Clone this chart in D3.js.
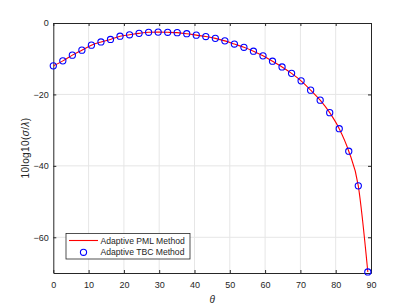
<!DOCTYPE html>
<html>
<head>
<meta charset="utf-8">
<script src="https://cdn.jsdelivr.net/npm/d3@7"></script>
<style>
  body { margin: 0; background: #fff; }
  text { font-family: "Liberation Sans", Arial, sans-serif; fill: #262626; }
</style>
</head>
<body>
<script>
// theta (deg) and RCS values
var theta = [0, 2.7, 5.4, 8.1, 10.8, 13.5, 16.2, 18.9, 21.6, 24.3, 27, 29.7, 32.4, 35.1, 37.8,
    40.5, 43.2, 45.9, 48.6, 51.3, 54, 56.7, 59.4, 62.1, 64.8, 67.5, 70.2, 72.9, 75.6, 78.3,
    81, 83.7, 86.4, 89.1];
var pml = [-12.0, -10.6, -9.0, -7.6, -6.2, -5.3, -4.6, -3.7, -3.3, -2.9, -2.6, -2.55, -2.6, -2.7, -3.0,
    -3.4, -3.8, -4.3, -5.0, -5.9, -6.8, -7.9, -9.2, -10.7, -12.3, -14.1, -16.2, -18.8, -21.6, -25.1,
    -29.6, -35.9, -45.6, -69.7];
var tbc = [-12.0, -10.6, -9.0, -7.6, -6.2, -5.3, -4.6, -3.7, -3.3, -2.9, -2.6, -2.55, -2.6, -2.7, -3.0,
    -3.4, -3.8, -4.3, -5.0, -5.9, -6.8, -7.9, -9.2, -10.7, -12.3, -14.1, -16.2, -18.8, -21.6, -25.1,
    -29.6, -35.9, -45.6, -69.7];
var xTicks = [0, 10, 20, 30, 40, 50, 60, 70, 80, 90];
var yTicks = [0, -20, -40, -60];
var seriesNames = ["Adaptive PML Method", "Adaptive TBC Method"];

var width = 410, height = 307;
var mLeft = 53.3, mRight = 371, mTop = 23, mBottom = 273;
var axisColor = "#262626";

var svg = d3.select('body').append('svg')
    .attr('width', width)
    .attr('height', height);

var x = d3.scaleLinear().domain([0, 90]).range([mLeft, mRight]);
var y = d3.scaleLinear().domain([-70, 0]).range([mBottom, mTop]);

// grid
svg.append('g').selectAll('line')
    .data(xTicks.slice(1, -1))
    .enter().append('line')
        .attr('x1', function (d) { return x(d); })
        .attr('x2', function (d) { return x(d); })
        .attr('y1', mTop).attr('y2', mBottom)
        .attr('stroke', '#e6e6e6').attr('stroke-width', 1);
svg.append('g').selectAll('line')
    .data(yTicks.slice(1))
    .enter().append('line')
        .attr('y1', function (d) { return y(d); })
        .attr('y2', function (d) { return y(d); })
        .attr('x1', mLeft).attr('x2', mRight)
        .attr('stroke', '#e6e6e6').attr('stroke-width', 1);

// axes (ticks inside, box on)
var styleAxis = function (g) {
    g.select('.domain').attr('stroke', axisColor);
    g.selectAll('.tick line').attr('stroke', axisColor);
    g.selectAll('.tick text').attr('fill', axisColor)
        .style('font-family', '"Liberation Sans", Arial, sans-serif')
        .style('font-size', '9px');
};
svg.append('g').attr('transform', 'translate(0,' + mBottom + ')')
    .call(d3.axisBottom(x).tickValues(xTicks).tickSize(-3).tickSizeOuter(0).tickPadding(9))
    .call(styleAxis);
svg.append('g').attr('transform', 'translate(0,' + mTop + ')')
    .call(d3.axisTop(x).tickValues(xTicks).tickSize(-3).tickSizeOuter(0).tickFormat(''))
    .call(styleAxis);
svg.append('g').attr('transform', 'translate(' + mLeft + ',0)')
    .call(d3.axisLeft(y).tickValues(yTicks).tickSize(-3).tickSizeOuter(0).tickPadding(4.5))
    .call(styleAxis);
svg.append('g').attr('transform', 'translate(' + mRight + ',0)')
    .call(d3.axisRight(y).tickValues(yTicks).tickSize(-3).tickSizeOuter(0).tickFormat(''))
    .call(styleAxis);

// data
svg.append('clipPath').attr('id', 'clip')
    .append('rect').attr('x', mLeft).attr('y', mTop)
    .attr('width', mRight - mLeft).attr('height', mBottom - mTop + 1);

var line = d3.line()
    .x(function (d, i) { return x(theta[i]); })
    .y(function (d) { return y(d); })
    .curve(d3.curveMonotoneX);

svg.append('path')
    .datum(pml)
    .attr('clip-path', 'url(#clip)')
    .attr('d', line)
    .attr('fill', 'none')
    .attr('stroke', '#ff0000')
    .attr('stroke-width', 1.1);

svg.append('g').selectAll('circle')
    .data(tbc)
    .enter().append('circle')
        .attr('cx', function (d, i) { return x(theta[i]); })
        .attr('cy', function (d) { return y(d); })
        .attr('r', 3.1)
        .attr('fill', 'none')
        .attr('stroke', '#0000ff')
        .attr('stroke-width', 1.1);

// labels
svg.append('text')
    .attr('x', (mLeft + mRight) / 2).attr('y', 302.5)
    .attr('text-anchor', 'middle')
    .style('font-size', '10px').style('font-style', 'italic')
    .text('θ');

var yl = svg.append('text')
    .attr('transform', 'translate(28.5,' + ((mTop + mBottom) / 2) + ') rotate(-90)')
    .attr('text-anchor', 'middle')
    .style('font-size', '10px')
    .style('letter-spacing', '0.4px');
yl.append('tspan').text('10log10(');
yl.append('tspan').style('font-style', 'italic').text('σ');
yl.append('tspan').text('/');
yl.append('tspan').style('font-style', 'italic').text('λ');
yl.append('tspan').text(')');

// legend
var lg = svg.append('g');
lg.append('rect')
    .attr('x', 66).attr('y', 233.5).attr('width', 124).attr('height', 25.5)
    .attr('fill', '#fff').attr('stroke', axisColor).attr('stroke-width', 0.8);
lg.append('line')
    .attr('x1', 69).attr('x2', 98).attr('y1', 240.5).attr('y2', 240.5)
    .attr('stroke', '#ff0000').attr('stroke-width', 1.1);
lg.append('circle')
    .attr('cx', 83.5).attr('cy', 252.3).attr('r', 3.1)
    .attr('fill', 'none').attr('stroke', '#0000ff').attr('stroke-width', 1.1);
lg.selectAll('text.lab')
    .data(seriesNames)
    .enter().append('text')
        .attr('class', 'lab')
        .attr('x', 100.5)
        .attr('y', function (d, i) { return 243.6 + i * 11.8; })
        .style('font-size', '8.6px')
        .text(function (d) { return d; });
</script>
</body>
</html>
